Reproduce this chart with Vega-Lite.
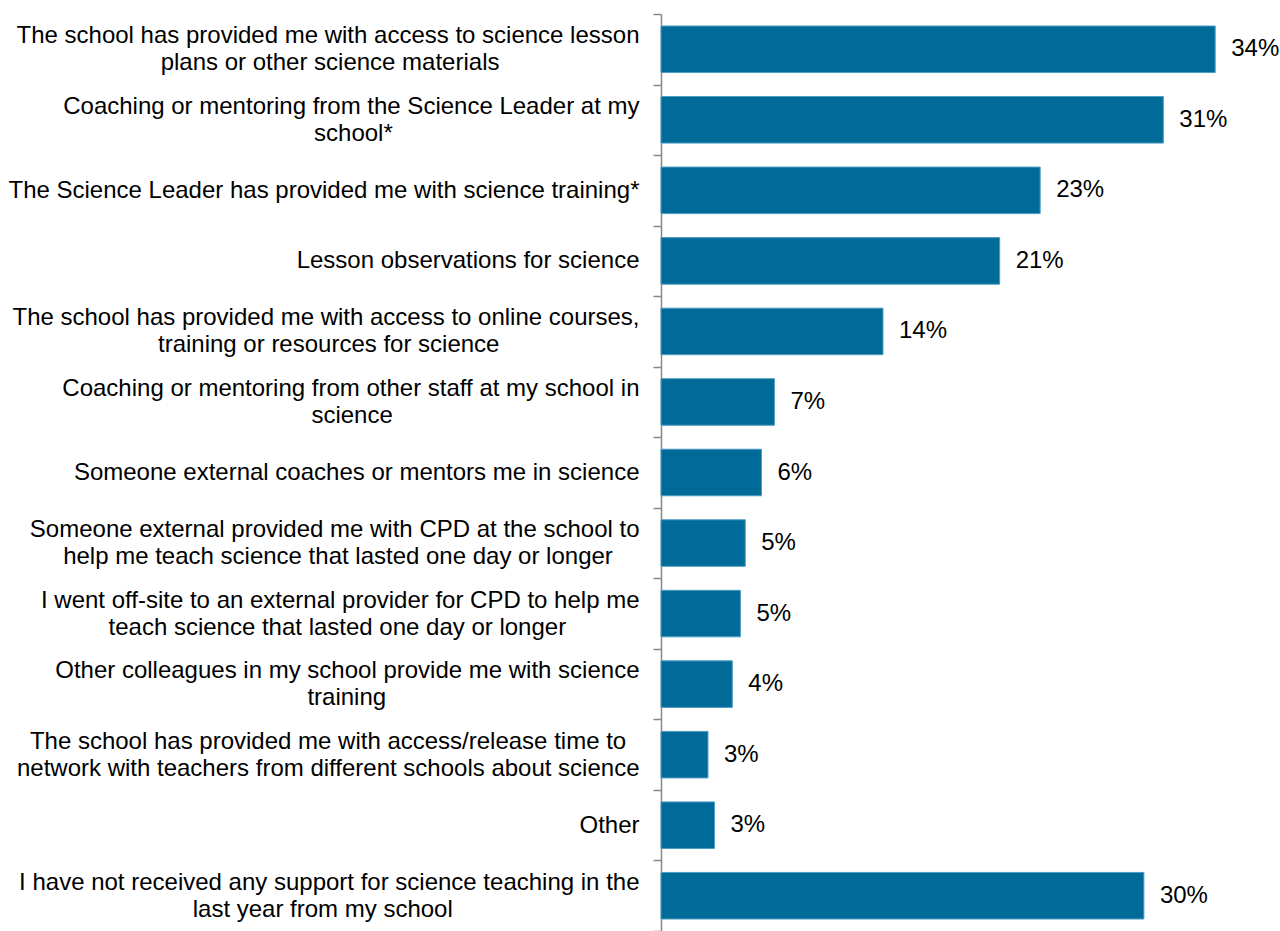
{
  "$schema": "https://vega.github.io/schema/vega-lite/v6.json",
  "autosize": {"type": "none"},
  "padding": {"left": 661, "top": 14, "right": 0, "bottom": 0},
  "width": 619,
  "height": 917,
  "background": "white",
  "config": {
    "view": {"stroke": null},
    "font": "Liberation Sans",
    "text": {"font": "Liberation Sans"}
  },
  "data": {
    "values": [
      {"item": "The school has provided me with access to science lesson\nplans or other science materials", "value": 34.2, "pct": "34%"},
      {"item": "Coaching or mentoring from the Science Leader at my\nschool*", "value": 31.0, "pct": "31%"},
      {"item": "The Science Leader has provided me with science training*", "value": 23.4, "pct": "23%"},
      {"item": "Lesson observations for science", "value": 20.9, "pct": "21%"},
      {"item": "The school has provided me with access to online courses,\ntraining or resources for science", "value": 13.7, "pct": "14%"},
      {"item": "Coaching or mentoring from other staff at my school in\nscience", "value": 7.0, "pct": "7%"},
      {"item": "Someone external coaches or mentors me in science", "value": 6.2, "pct": "6%"},
      {"item": "Someone external provided me with CPD at the school to\nhelp me teach science that lasted one day or longer", "value": 5.2, "pct": "5%"},
      {"item": "I went off-site to an external provider for CPD to help me\nteach science that lasted one day or longer", "value": 4.9, "pct": "5%"},
      {"item": "Other colleagues in my school provide me with science\ntraining", "value": 4.4, "pct": "4%"},
      {"item": "The school has provided me with access/release time to\nnetwork with teachers from different schools about science", "value": 2.9, "pct": "3%"},
      {"item": "Other", "value": 3.3, "pct": "3%"},
      {"item": "I have not received any support for science teaching in the\nlast year from my school", "value": 29.8, "pct": "30%"}
    ]
  },
  "encoding": {
    "y": {
      "field": "item",
      "type": "nominal",
      "sort": null,
      "scale": {"paddingInner": 0, "paddingOuter": 0},
      "axis": {
        "title": null,
        "tickBand": "extent",
        "domainColor": "#898989",
        "domainWidth": 1.5,
        "tickColor": "#898989",
        "tickWidth": 1.5,
        "tickSize": 8,
        "labelPadding": 14,
        "labelLimit": 0,
        "labelFont": "Liberation Sans",
        "labelFontSize": 24,
        "labelColor": "#000000",
        "labelAlign": "right",
        "labelBaseline": "middle",
        "labelLineHeight": 27,
        "labelOffset": {"condition": {"test": "length(split(datum.value,'\\n')) > 1", "value": -13.5}, "value": 0},
        "labelExpr": "length(split(datum.value,'\\n')) > 1 ? (((0.556*length(split(datum.value,'\\n')[0])-0.334*length(replace(split(datum.value,'\\n')[0],regexp('[^ijl]','g'),''))-0.278*length(replace(split(datum.value,'\\n')[0],regexp('[^ ft,./]','g'),''))-0.223*length(replace(split(datum.value,'\\n')[0],regexp('[^r-]','g'),''))+0.277*length(replace(split(datum.value,'\\n')[0],regexp('[^m]','g'),''))+0.166*length(replace(split(datum.value,'\\n')[0],regexp('[^wCDP]','g'),''))-0.056*length(replace(split(datum.value,'\\n')[0],regexp('[^sckvxyz*]','g'),''))) - (0.556*length(split(datum.value,'\\n')[1])-0.334*length(replace(split(datum.value,'\\n')[1],regexp('[^ijl]','g'),''))-0.278*length(replace(split(datum.value,'\\n')[1],regexp('[^ ft,./]','g'),''))-0.223*length(replace(split(datum.value,'\\n')[1],regexp('[^r-]','g'),''))+0.277*length(replace(split(datum.value,'\\n')[1],regexp('[^m]','g'),''))+0.166*length(replace(split(datum.value,'\\n')[1],regexp('[^wCDP]','g'),''))-0.056*length(replace(split(datum.value,'\\n')[1],regexp('[^sckvxyz*]','g'),'')))) >= 0 ? [split(datum.value,'\\n')[0], pad(split(datum.value,'\\n')[1], length(split(datum.value,'\\n')[1]) + round(1.8*((0.556*length(split(datum.value,'\\n')[0])-0.334*length(replace(split(datum.value,'\\n')[0],regexp('[^ijl]','g'),''))-0.278*length(replace(split(datum.value,'\\n')[0],regexp('[^ ft,./]','g'),''))-0.223*length(replace(split(datum.value,'\\n')[0],regexp('[^r-]','g'),''))+0.277*length(replace(split(datum.value,'\\n')[0],regexp('[^m]','g'),''))+0.166*length(replace(split(datum.value,'\\n')[0],regexp('[^wCDP]','g'),''))-0.056*length(replace(split(datum.value,'\\n')[0],regexp('[^sckvxyz*]','g'),''))) - (0.556*length(split(datum.value,'\\n')[1])-0.334*length(replace(split(datum.value,'\\n')[1],regexp('[^ijl]','g'),''))-0.278*length(replace(split(datum.value,'\\n')[1],regexp('[^ ft,./]','g'),''))-0.223*length(replace(split(datum.value,'\\n')[1],regexp('[^r-]','g'),''))+0.277*length(replace(split(datum.value,'\\n')[1],regexp('[^m]','g'),''))+0.166*length(replace(split(datum.value,'\\n')[1],regexp('[^wCDP]','g'),''))-0.056*length(replace(split(datum.value,'\\n')[1],regexp('[^sckvxyz*]','g'),''))))), '\u00a0') + '\u200b'] : [pad(split(datum.value,'\\n')[0], length(split(datum.value,'\\n')[0]) + round(1.8*((0.556*length(split(datum.value,'\\n')[1])-0.334*length(replace(split(datum.value,'\\n')[1],regexp('[^ijl]','g'),''))-0.278*length(replace(split(datum.value,'\\n')[1],regexp('[^ ft,./]','g'),''))-0.223*length(replace(split(datum.value,'\\n')[1],regexp('[^r-]','g'),''))+0.277*length(replace(split(datum.value,'\\n')[1],regexp('[^m]','g'),''))+0.166*length(replace(split(datum.value,'\\n')[1],regexp('[^wCDP]','g'),''))-0.056*length(replace(split(datum.value,'\\n')[1],regexp('[^sckvxyz*]','g'),''))) - (0.556*length(split(datum.value,'\\n')[0])-0.334*length(replace(split(datum.value,'\\n')[0],regexp('[^ijl]','g'),''))-0.278*length(replace(split(datum.value,'\\n')[0],regexp('[^ ft,./]','g'),''))-0.223*length(replace(split(datum.value,'\\n')[0],regexp('[^r-]','g'),''))+0.277*length(replace(split(datum.value,'\\n')[0],regexp('[^m]','g'),''))+0.166*length(replace(split(datum.value,'\\n')[0],regexp('[^wCDP]','g'),''))-0.056*length(replace(split(datum.value,'\\n')[0],regexp('[^sckvxyz*]','g'),''))))), '\u00a0') + '\u200b', split(datum.value,'\\n')[1]]) : datum.value"
      }
    },
    "x": {
      "field": "value",
      "type": "quantitative",
      "scale": {"domain": [0, 38.2], "nice": false, "zero": true},
      "axis": null
    }
  },
  "layer": [
    {
      "mark": {"type": "bar", "color": "#006B98", "stroke": "#4D9CC4", "strokeWidth": 1, "height": {"band": 0.66}}
    },
    {
      "mark": {"type": "text", "align": "left", "baseline": "middle", "dx": 16, "fontSize": 24, "font": "Liberation Sans", "color": "#000000"},
      "encoding": {"text": {"field": "pct"}}
    }
  ]
}
